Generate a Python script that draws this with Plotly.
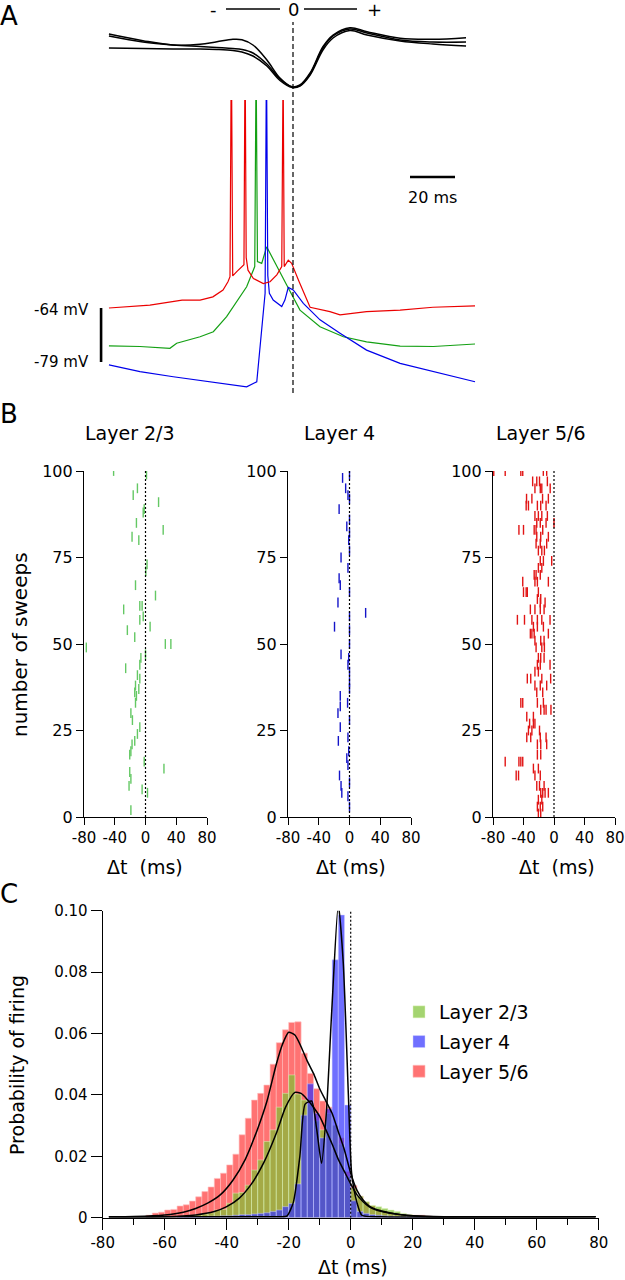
import plotly.graph_objects as go

W, H = 625, 1280

# ---------------- A: example sweeps (ms from LFP trough, mV) ----------------
red_t = [-81.8, -63.6, -49.3, -41.3, -35.6, -31.1, -28.9, -28.0, -27.4, -26.8, -25.0,
         -22.8, -21.8, -21.3, -20.8, -20.0, -17.6, -13.2, -10.2, -7.2, -5.0, -4.4,
         -3.9, -2.1, -0.6, 2.4, 7.6, 16.4, 20.9, 32.7, 47.6, 62.2, 80.9]
red_v = [-64.0, -63.2, -61.8, -61.8, -60.9, -59.0, -56.7, -55.3, 10.7, -55.1, -53.9,
         -52.5, -52.0, 9.3, -50.0, -53.5, -55.8, -57.2, -56.7, -54.8, -52.5, 4.0,
         -52.5, -50.7, -51.6, -56.2, -63.8, -65.0, -65.9, -65.0, -64.6, -63.8, -63.4]

green_t = [-81.8, -68.0, -54.7, -51.7, -41.3, -35.4, -29.5, -25.0, -20.6, -17.0,
           -16.4, -15.8, -13.9, -11.7, -7.2, -2.8, 3.1, 12.0, 22.4, 32.7, 47.6, 62.4, 80.9]
green_v = [-74.5, -74.7, -75.2, -73.8, -72.0, -70.6, -66.4, -62.2, -58.1, -52.5,
           5.2, -51.1, -51.6, -47.0, -52.5, -57.6, -64.6, -69.2, -72.0, -73.4, -74.6, -74.7, -74.0]

blue_t = [-81.8, -68.0, -53.2, -35.4, -20.6, -16.1, -13.9, -12.4, -11.8, -11.2,
          -10.5, -8.8, -5.0, -3.6, -2.1, 0.1, 4.6, 12.0, 20.9, 32.7, 47.6, 62.4, 80.9]
blue_v = [-79.8, -81.7, -83.1, -84.7, -85.9, -84.5, -71.0, -59.9, 6.6, -55.0,
          -59.9, -61.8, -63.6, -61.8, -58.3, -59.0, -62.7, -67.3, -71.0, -75.7, -79.4, -81.7, -84.5]

# LFP (arbitrary units, 0 = baseline)
lfp_t = [-81.8, -66.7, -53.3, -41.3, -33.8, -26.7, -22.7, -17.8, -11.6, -5.8, -0.4,
         3.1, 7.6, 13.3, 17.8, 25.3, 32.9, 47.6, 62.2, 76.9]
lfp_1 = [11, 4.3, 0, 0.7, 3.3, 5.7, 5.3, 0, -15, -33, -41.7, -40, -28, -1.7, 10, 17.3, 13.3, 6.7, 5.7, 7.3]
lfp_2 = [9, 3, 0, -1.5, -2.5, -3.5, -4.5, -8, -19, -34, -42, -40.5, -29, -3, 9, 16, 12, 5, 3, 3]
lfp_3 = [-3, -3.5, -4, -4, -4.5, -5.5, -7, -11, -21, -35.5, -42.5, -41, -30, -5, 7, 14.5, 10, 4, 1, -1]

scale_ms = 20
vm_labels = [-64, -79]

# ---------------- B: spike rasters ----------------
l23_t = [-41.5, 1.3, -10.5, -16, 17, -1.7, -3, -11.8, 23, -17.5, -8.7, 2, 0.4, -13, 13,
         -28.4, -7.4, -4.4, -7.4, -3, -23.6, 6, -14, 25.8, 33, -77, 0, -6, -7.4, -25.8,
         -10.5, -7.4, -13, -8.7, -14, -13, -11.8, -19, -17, -7.4, -10.5, -14, -17.5, -19,
         -20.5, -1.7, 24, -20.5, -19, -21.4, -4.4, 2.6, -19]
l23_sweep = [100, 99, 95, 93, 91, 89, 88, 85, 83, 81, 80, 73, 71, 67, 64,
             60, 61, 61, 57, 58, 54, 55, 52, 50, 50, 49, 47, 46, 44, 43,
             41, 40, 38, 37, 36, 33, 35, 30, 28, 26, 24, 22, 21, 19,
             18, 16, 14, 13, 11, 9, 8, 7, 2]

l4_t = [-9, 0, -5, -2, 0, -13.5, 0, -3.5, 0, -1, -11, 0, -2, -13.5, -12, 0, -15, 21, 0,
        -19.5, 0, 0, -11, -1, -2, 0, 0, 0, -12, -12, -2.5, -15, 0, -12, -14.5, -2, -1,
        -3.5, -2, -13, 0, -11, -10, -2, 0]
l4_sweep = [98, 99, 95, 93, 92, 89, 86, 84, 82, 80, 75, 77, 72, 69, 67, 65, 62, 59, 58,
            55, 54, 50, 47, 46, 44, 42, 39, 37, 35, 32, 33, 30, 28, 26, 22, 23, 19,
            17, 15, 12, 10, 9, 7, 6, 3]

l56_t = [-79, -64, -43.5, -41, -14, -9.6,
         -28, -22.6, -19, -8.7,
         -25, -18, -16, -5,
         -36, -29, -15, -7.4,
         -36.5, -33.5, -21.8, -17.4, -10.4,
         -25, -20.5, -16, -8.7,
         -22.6, -18, -10.4, 0,
         -46, -40, -26, -23.5, -14.8,
         -22.6, -17.4, -7.4,
         -23.5, -18, -9.6,
         -20.5, -16, -12.6,
         -18, -13.9, -3,
         -20.5, -16,
         -26, -23.5, -18,
         -41, -25, -21.8, -7.4,
         -40, -36.5, -35, -20.5,
         -21.8, -17.4,
         -18, -11.7,
         -31, -25, -18, -13,
         -48, -38.7, -29, -21.8, -16, -5.2,
         -27, -21.8, -13.9,
         -31, -29, -26, -7.4,
         -25, -17.4, -13,
         -23.5, -16, -12.6,
         -20.5, -17.4, -13,
         -21.8, -18, -5.2,
         -25, -20.5,
         -35, -30.5, -16, -4.4,
         -25, -18, -9.6,
         -22.6, -14.8,
         -43.5, -41, -21.8, -13.9,
         -17.4, -13, -10.4, -4,
         -35.7, -27,
         -32, -27, -25,
         -33.5, -29, -19,
         -35.7, -30.5, -18, -10.4,
         -21.8, -17.4, -9.6,
         -21.8, -17.4,
         -64, -46, -43.5, -41,
         -27, -20.5,
         -49.6, -46.5, -25, -18,
         -22.6, -19, -13,
         -17.4, -14.8, -11.7, -7.4,
         -20.5, -16,
         -21.8, -18, -14.8,
         -20.5, -17.4]
l56_sweep = [100] * 6 + [97] * 4 + [95] * 4 + [92] * 4 + [90] * 5 + [87] * 4 + [85] * 4 + \
            [83] * 5 + [81] * 3 + [79] * 3 + [77] * 3 + [74] * 3 + [72] * 2 + [70] * 3 + \
            [68] * 4 + [65] * 4 + [63] * 2 + [62] * 2 + [60] * 4 + [57] * 6 + [55] * 3 + \
            [53] * 4 + [51] * 3 + [49] * 3 + [46] * 3 + [44] * 3 + [42] * 2 + [40] * 4 + \
            [38] * 3 + [36] * 2 + [33] * 4 + [31] * 4 + [29] * 2 + [27] * 3 + [25] * 3 + \
            [23] * 4 + [21] * 3 + [18] * 2 + [16] * 4 + [14] * 2 + [12] * 4 + [9] * 3 + \
            [7] * 4 + [5] * 2 + [3] * 3 + [1] * 2

# ---------------- C: firing probability histograms (2 ms bins) ----------------
bin_centers = list(range(-65, 31, 2))
hist_l56 = [0.0008, 0.0015, 0.0018, 0.0025, 0.0027, 0.0038, 0.0042, 0.0054, 0.0068, 0.0085,
            0.0100, 0.0128, 0.0145, 0.0172, 0.0207, 0.0270, 0.0324, 0.0383, 0.0405, 0.0432,
            0.0500, 0.0570, 0.0612, 0.0636, 0.0638, 0.0536, 0.0470, 0.0420, 0.0380, 0.0360,
            0.0300, 0.0260, 0.0150, 0.0105, 0.0070, 0.0050, 0.0038, 0.0028, 0.0022, 0.0016,
            0.0013, 0.0010, 0.0009, 0.0008, 0.0008, 0.0005, 0.0003, 0.0002]
hist_l23 = [0, 0, 0, 0, 0, 0.0003, 0.0005, 0.0008, 0.0010, 0.0012,
            0.0016, 0.0025, 0.0027, 0.0047, 0.0080, 0.0082, 0.0106, 0.0155, 0.0188, 0.0248,
            0.0286, 0.0360, 0.0405, 0.0465, 0.0403, 0.0383, 0.0370, 0.0315, 0.0286, 0.0340,
            0.0300, 0.0240, 0.0134, 0.0096, 0.0070, 0.0052, 0.0040, 0.0036, 0.0030, 0.0025,
            0.0020, 0.0014, 0.0010, 0.0007, 0.0005, 0.0004, 0.0003, 0.0002]
hist_l4 = [0, 0, 0, 0, 0, 0.0003, 0.0003, 0.0003, 0.0003, 0.0004,
           0.0005, 0.0005, 0.0006, 0.0006, 0.0008, 0.0010, 0.0010, 0.0012, 0.0014, 0.0016,
           0.0020, 0.0025, 0.0036, 0.0046, 0.0110, 0.0334, 0.0436, 0.0340, 0.0260, 0.0355,
           0.0840, 0.0986, 0.0367, 0.0055, 0.0020, 0.0014, 0.0010, 0.0008, 0.0006, 0.0005,
           0.0004, 0.0003, 0.0003, 0.0002, 0.0002, 0.0001, 0.0001, 0.0001]

fit_l56_t = [-78, -70, -60, -54, -50, -46, -42, -38, -34, -30, -27, -24, -22, -20, -18, -16,
             -14, -12, -10, -8, -6, -4, -2, 0, 2, 4, 6, 8, 10, 14, 18, 24, 40, 79]
fit_l56_p = [0.0003, 0.0004, 0.0009, 0.0018, 0.003, 0.0048, 0.0075, 0.0122, 0.019, 0.029,
             0.038, 0.050, 0.0565, 0.0604, 0.0595, 0.0557, 0.051, 0.047, 0.042, 0.038, 0.034,
             0.028, 0.022, 0.0145, 0.0090, 0.0058, 0.0038, 0.0028, 0.0022, 0.0013, 0.0008,
             0.0004, 0.0003, 0.0003]
fit_l23_t = [-78, -60, -50, -44, -40, -36, -32, -28, -24, -21, -18, -16, -14, -12, -10, -8,
             -6, -4, -2, 0, 2, 4, 6, 8, 12, 16, 20, 30, 79]
fit_l23_p = [0.0003, 0.0003, 0.0009, 0.002, 0.0036, 0.0063, 0.011, 0.018, 0.0275, 0.036,
             0.0408, 0.0405, 0.0385, 0.036, 0.033, 0.0286, 0.024, 0.019, 0.015, 0.011, 0.0075,
             0.0052, 0.0035, 0.0026, 0.0016, 0.001, 0.0006, 0.0003, 0.0003]
fit_l4_t = [-78, -30, -23, -20.6, -18.5, -16.4, -14.7, -12.6, -11, -9.4, -7.8, -6.1, -4.0,
            -2.4, -0.75, 0.3, 2, 3.6, 10, 79]
fit_l4_p = [0.0003, 0.0003, 0.0003, 0.0005, 0.005, 0.02, 0.037, 0.038, 0.029, 0.0177,
            0.035, 0.0676, 0.102, 0.083, 0.040, 0.0145, 0.005, 0.0008, 0.0003, 0.0003]

tick_b = [-80, -40, 0, 40, 80]
tick_c = [-80, -60, -40, -20, 0, 20, 40, 60, 80]
tick_cy = [0, 0.02, 0.04, 0.06, 0.08, 0.10]


def px(x):
    return x / W


def py(y):
    return 1 - y / H


def lbl(v):
    return str(v).replace('\u2212', '-')


fig = go.Figure()

# panel A
fig.add_scatter(x=lfp_t, y=lfp_1, xaxis='x', yaxis='y2', mode='lines', line=dict(color='black', width=1.5, shape='spline'))
fig.add_scatter(x=lfp_t, y=lfp_2, xaxis='x', yaxis='y2', mode='lines', line=dict(color='black', width=1.5, shape='spline'))
fig.add_scatter(x=lfp_t, y=lfp_3, xaxis='x', yaxis='y2', mode='lines', line=dict(color='black', width=1.5, shape='spline'))
fig.add_scatter(x=green_t, y=green_v, xaxis='x', yaxis='y', mode='lines', line=dict(color='rgb(20,160,20)', width=1.2))
fig.add_scatter(x=blue_t, y=blue_v, xaxis='x', yaxis='y', mode='lines', line=dict(color='rgb(0,0,235)', width=1.2))
fig.add_scatter(x=red_t, y=red_v, xaxis='x', yaxis='y', mode='lines', line=dict(color='rgb(235,0,0)', width=1.2))

# panel B
rasters = [(l23_t, l23_sweep, 'rgb(100,200,100)', 'x2', 'y3'),
           (l4_t, l4_sweep, 'rgb(20,20,200)', 'x3', 'y4'),
           (l56_t, l56_sweep, 'rgb(225,20,20)', 'x4', 'y5')]
for t, s, c, xa, ya in rasters:
    fig.add_scatter(x=t, y=s, xaxis=xa, yaxis=ya, mode='markers',
                    marker=dict(symbol='line-ns', size=7, line=dict(width=1.4, color=c)))

# panel C
fig.add_bar(x=bin_centers, y=hist_l56, width=2, xaxis='x5', yaxis='y6', name='Layer 5/6',
            legendrank=3, legendgroup='c',
            marker=dict(color='rgba(255,0,0,0.55)', line=dict(color='rgba(255,190,190,0.8)', width=0.8)))
fig.add_bar(x=bin_centers, y=hist_l23, width=2, xaxis='x5', yaxis='y6', name='Layer 2/3',
            legendrank=1, legendgroup='a',
            marker=dict(color='rgba(126,194,51,0.7)', line=dict(color='rgba(225,245,190,0.6)', width=0.8)))
fig.add_bar(x=bin_centers, y=hist_l4, width=2, xaxis='x5', yaxis='y6', name='Layer 4',
            legendrank=2, legendgroup='b',
            marker=dict(color='rgba(50,50,255,0.7)', line=dict(color='rgba(210,210,255,0.6)', width=0.8)))
for t, p in [(fit_l56_t, fit_l56_p), (fit_l23_t, fit_l23_p), (fit_l4_t, fit_l4_p)]:
    fig.add_scatter(x=t, y=p, xaxis='x5', yaxis='y6', mode='lines', cliponaxis=False,
                    line=dict(color='black', width=1.5, shape='spline', smoothing=0.6))

for tr in fig.data:
    if tr.type == 'scatter':
        tr.showlegend = False

axis_style = dict(showline=True, linecolor='black', linewidth=1.2, ticks='outside',
                  tickcolor='black', tickwidth=1.2, showgrid=False, zeroline=False,
                  automargin=False, tickfont=dict(size=15))

b_x = dict(axis_style, range=[-80, 80], tickvals=tick_b, ticktext=[lbl(v) for v in tick_b], ticklen=7)
b_y = dict(axis_style, range=[0, 100], tickvals=[0, 25, 50, 75, 100], ticklen=7,
           domain=[py(817), py(471)], tickfont=dict(size=16))

fig.update_layout(
    template='none',
    width=W, height=H, margin=dict(l=0, r=0, t=0, b=0, pad=0),
    paper_bgcolor='white', plot_bgcolor='white', barmode='overlay',
    font=dict(family='DejaVu Sans', color='black'),
    xaxis=dict(domain=[px(40), px(480)], range=[-112.44, 83.11], visible=False),
    yaxis=dict(domain=[py(400), py(0)], range=[-89.56, 21.56], visible=False, anchor='x'),
    yaxis2=dict(domain=[py(100), py(20)], range=[-55, 25], visible=False, anchor='x'),
    xaxis2=dict(b_x, domain=[px(84), px(207)], anchor='y3'),
    yaxis3=dict(b_y, anchor='x2'),
    xaxis3=dict(b_x, domain=[px(288), px(411)], anchor='y4'),
    yaxis4=dict(b_y, anchor='x3'),
    xaxis4=dict(b_x, domain=[px(493), px(615)], anchor='y5'),
    yaxis5=dict(b_y, anchor='x4'),
    xaxis5=dict(axis_style, domain=[px(102.7), px(598.7)], range=[-80, 80], anchor='y6',
                tickvals=tick_c, ticktext=[lbl(v) for v in tick_c], ticklen=11,
                minor=dict(tickvals=[-70, -50, -30, -10, 10, 30, 50, 70], ticks='outside',
                           ticklen=6, tickcolor='black', tickwidth=1.2)),
    yaxis6=dict(axis_style, domain=[py(1217.7), py(910.7)], range=[0, 0.1], anchor='x5',
                tickvals=tick_cy, ticktext=['0', '0.02', '0.04', '0.06', '0.08', '0.10'], ticklen=11),
    legend=dict(x=px(399), y=py(993), xanchor='left', yanchor='top', font=dict(size=19),
                bgcolor='rgba(0,0,0,0)', itemwidth=30, tracegroupgap=2),
)

# dashed / dotted zero lines
fig.add_shape(type='line', xref='x', yref='paper', x0=0, x1=0, y0=py(393), y1=py(22),
              line=dict(color='black', width=1.2, dash='5px,3px'))
for xa, ya in [('x2', 'y3'), ('x3', 'y4'), ('x4', 'y5')]:
    fig.add_shape(type='line', xref=xa, yref=ya, x0=0, x1=0, y0=0, y1=100,
                  line=dict(color='black', width=1.2, dash='2px,2px'))
fig.add_shape(type='line', xref='x5', yref='y6', x0=0, x1=0, y0=0, y1=0.1,
              line=dict(color='black', width=1.2, dash='2px,2px'))

# scale bars
fig.add_shape(type='line', xref='x', yref='y', x0=52, x1=52 + scale_ms, y0=-27.6, y1=-27.6,
              line=dict(color='black', width=2.6))
fig.add_shape(type='line', xref='x', yref='y', x0=-85.3, x1=-85.3, y0=vm_labels[0], y1=vm_labels[1],
              line=dict(color='black', width=2.6))
# - ---- 0 ---- + marker
fig.add_shape(type='line', xref='paper', yref='paper', x0=px(226), x1=px(280), y0=py(9), y1=py(9),
              line=dict(color='black', width=1.3))
fig.add_shape(type='line', xref='paper', yref='paper', x0=px(304), x1=px(357), y0=py(9), y1=py(9),
              line=dict(color='black', width=1.3))


def note(text, x, y, size, anchor='center', angle=0):
    fig.add_annotation(text=text, x=px(x), y=py(y), xref='paper', yref='paper', showarrow=False,
                       xanchor=anchor, yanchor='middle', textangle=angle, font=dict(size=size))


note('A', 9, 16, 26)
note('B', 9, 414, 26)
note('C', 9, 894, 26)
note('-', 213, 9, 18)
note('0', 293, 9, 18)
note('+', 374, 9, 18)
note('%d ms' % scale_ms, 432, 197, 16)
note('%d mV' % vm_labels[0], 91, 310, 15, 'right')
note('%d mV' % vm_labels[1], 91, 362, 15, 'right')
note('Layer 2/3', 130, 433, 19)
note('Layer 4', 339, 433, 19)
note('Layer 5/6', 541, 433, 19)
note('\u0394t\u00a0\u00a0(ms)', 145, 867, 19)
note('\u0394t (ms)', 351, 867, 19)
note('\u0394t\u00a0\u00a0(ms)', 557, 867, 19)
note('number of sweeps', 20, 645, 20, angle=-90)
note('Probability of firing', 17, 1065, 19, angle=-90)
note('\u0394t (ms)', 353, 1267, 19)

# the page body has an 8px default margin; drop it so the figure sits at (0, 0)
fig.write_html("out.html", config={'displayModeBar': False},
               post_script="document.body.style.margin='0';")
